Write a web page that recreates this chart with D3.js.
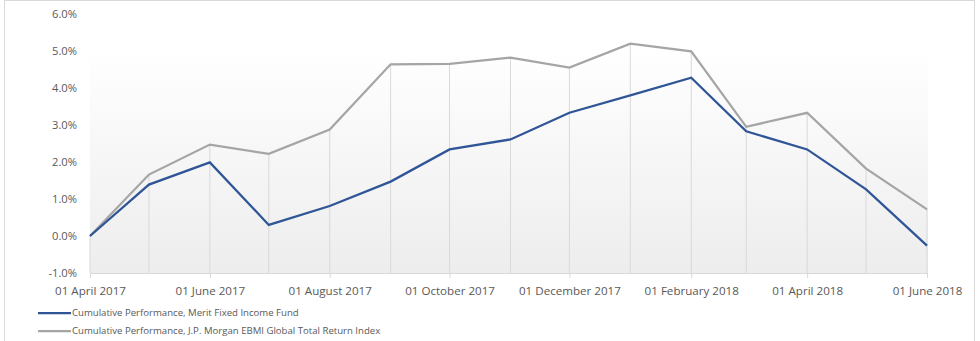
<!DOCTYPE html>
<html>
<head>
<meta charset="utf-8">
<script src="https://cdn.jsdelivr.net/npm/d3@7"></script>
<style>
  body { margin: 0; background: #fff; }
  text { font-family: "Open Sans", "Noto Sans", sans-serif; fill: #595959; }
</style>
</head>
<body>
<div id="chart"></div>
<script>
// monthly dates
const dates = ['2017-04-01', '2017-05-01', '2017-06-01', '2017-07-01', '2017-08-01', '2017-09-01',
    '2017-10-01', '2017-11-01', '2017-12-01', '2018-01-01', '2018-02-01', '2018-03-01',
    '2018-04-01', '2018-05-01', '2018-06-01'];
// cumulative performance, percent
const fundValues = [0, 1.39, 1.99, 0.30, 0.81, 1.47, 2.34, 2.61, 3.33, 3.80, 4.28, 2.83, 2.34, 1.26, -0.26];
const indexValues = [0, 1.66, 2.47, 2.22, 2.88, 4.64, 4.65, 4.82, 4.55, 5.20, 4.99, 2.95, 3.33, 1.82, 0.72];
const yTicks = [-1, 0, 1, 2, 3, 4, 5, 6];
const seriesNames = ['Cumulative Performance, Merit Fixed Income Fund',
    'Cumulative Performance, J.P. Morgan EBMI Global Total Return Index'];

const config = {
    width: 980,
    height: 341,
    margin: { top: 14, right: 53, bottom: 68, left: 90 },
    colors: { fund: '#2f5597', index: '#a5a5a5', grid: '#d9d9d9', frame: '#d9d9d9' }
};

const parse = d3.timeParse('%Y-%m-%d');
const data = dates.map((d, i) => ({ date: parse(d), fund: fundValues[i], index: indexValues[i] }));

const svg = d3.select('#chart')
    .append('svg')
    .attr('width', config.width)
    .attr('height', config.height);

// outer frame
svg.append('rect')
    .attr('x', 4.5).attr('y', 0.5)
    .attr('width', 970).attr('height', 360)
    .attr('fill', 'none')
    .attr('stroke', config.colors.frame);

const x = d3.scaleTime()
    .domain(d3.extent(data, d => d.date))
    .range([config.margin.left, config.width - config.margin.right]);
const y = d3.scaleLinear()
    .domain([-1, 6])
    .range([config.height - config.margin.bottom, config.margin.top]);

// plot area gradient
const defs = svg.append('defs');
const grad = defs.append('linearGradient')
    .attr('id', 'bg')
    .attr('x1', 0).attr('y1', 0).attr('x2', 0).attr('y2', 1);
grad.append('stop').attr('offset', '0%').attr('stop-color', '#ffffff');
grad.append('stop').attr('offset', '100%').attr('stop-color', '#ededed');

svg.append('rect')
    .attr('x', x.range()[0])
    .attr('y', 50)
    .attr('width', x.range()[1] - x.range()[0] + 1)
    .attr('height', y(-1) - 50)
    .attr('fill', 'url(#bg)');

// drop lines
svg.append('g')
    .selectAll('line')
    .data(data)
    .join('line')
    .attr('x1', d => x(d.date)).attr('x2', d => x(d.date))
    .attr('y1', d => y(Math.max(d.fund, d.index)))
    .attr('y2', y(-1))
    .attr('stroke', config.colors.grid)
    .attr('stroke-width', 1);

// x axis
const xAxis = svg.append('g')
    .attr('transform', `translate(0, ${y(-1)})`)
    .call(d3.axisBottom(x)
        .tickValues(data.filter((d, i) => i % 2 === 0).map(d => d.date))
        .tickFormat(d3.timeFormat('01 %B %Y'))
        .tickSize(5)
        .tickPadding(9));
xAxis.select('.domain').attr('stroke', config.colors.grid);
xAxis.selectAll('.tick line').attr('stroke', config.colors.grid);
xAxis.selectAll('.tick text').style('font-size', '11.6px').attr('fill', '#595959');

// y axis labels
const yAxis = svg.append('g')
    .attr('transform', `translate(${config.margin.left}, 0)`)
    .call(d3.axisLeft(y)
        .tickValues(yTicks)
        .tickFormat(d => d.toFixed(1) + '%')
        .tickSize(0)
        .tickPadding(13));
yAxis.select('.domain').remove();
yAxis.selectAll('.tick text').style('font-size', '11.2px').attr('fill', '#595959');

// lines
const line = key => d3.line()
    .x(d => x(d.date))
    .y(d => y(d[key]));

svg.append('path')
    .datum(data)
    .attr('d', line('index'))
    .attr('fill', 'none')
    .attr('stroke', config.colors.index)
    .attr('stroke-width', 2.25);

svg.append('path')
    .datum(data)
    .attr('d', line('fund'))
    .attr('fill', 'none')
    .attr('stroke', config.colors.fund)
    .attr('stroke-width', 2.25);

// legend
const legend = svg.append('g')
    .selectAll('g')
    .data(seriesNames)
    .join('g')
    .attr('transform', (d, i) => `translate(38, ${313 + i * 18})`);
legend.append('line')
    .attr('x1', 0).attr('x2', 33)
    .attr('stroke', (d, i) => i === 0 ? config.colors.fund : config.colors.index)
    .attr('stroke-width', 2.25);
legend.append('text')
    .attr('x', 34)
    .attr('dy', '0.35em')
    .style('font-size', '9.6px')
    .text(d => d);
</script>
</body>
</html>
